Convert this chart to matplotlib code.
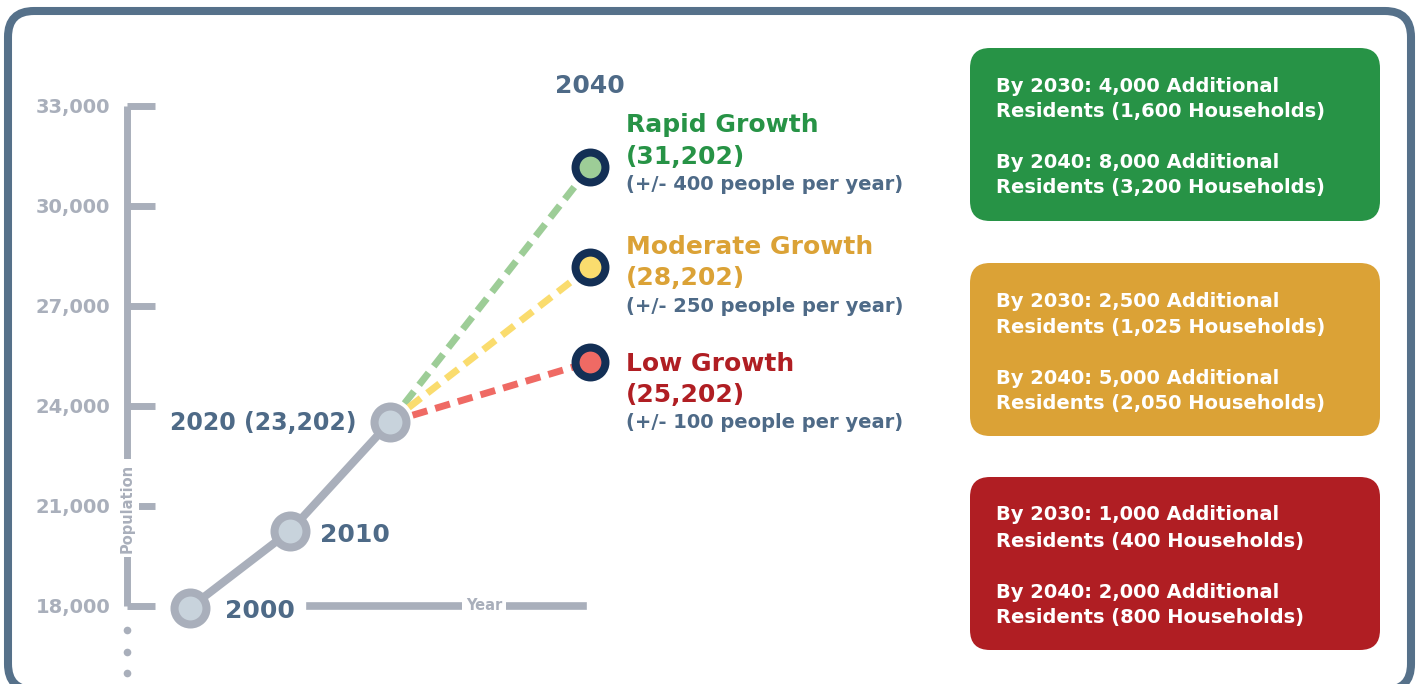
import matplotlib
matplotlib.use("Agg")
import matplotlib.pyplot as plt
from matplotlib.patches import FancyBboxPatch

# population history (read from drawn positions)
years = [2000, 2010, 2020]
population = [17950, 20250, 23520]
hist_labels = ["2000", "2010", "2020 (23,202)"]

# 2040 projections
proj_year = 2040
scenarios = ["Rapid Growth", "Moderate Growth", "Low Growth"]
proj_values = [31170, 28170, 25320]
proj_labels = ["(31,202)", "(28,202)", "(25,202)"]
rate_labels = ["(+/- 400 people per year)", "(+/- 250 people per year)",
               "(+/- 100 people per year)"]

y_ticks = [18000, 21000, 24000, 27000, 30000, 33000]

box_lines = [
    ["By 2030: 4,000 Additional", "Residents (1,600 Households)",
     "By 2040: 8,000 Additional", "Residents (3,200 Households)"],
    ["By 2030: 2,500 Additional", "Residents (1,025 Households)",
     "By 2040: 5,000 Additional", "Residents (2,050 Households)"],
    ["By 2030: 1,000 Additional", "Residents (400 Households)",
     "By 2040: 2,000 Additional", "Residents (800 Households)"],
]

# colours
slate = "#4e6a87"
gray = "#a9afbb"
inner_gray = "#c8d3dc"
navy = "#132f55"
frame_col = "#56718a"
text_cols = ["#279346", "#dba236", "#b01e23"]
dash_cols = ["#9dcd97", "#fadc6e", "#ef6a64"]
box_cols = ["#279346", "#dba236", "#b01e23"]

W, H = 1418, 684
plt.rcParams["font.family"] = "DejaVu Sans"
plt.rcParams["font.weight"] = "bold"

fig = plt.figure(figsize=(W / 100, H / 100), dpi=100)
ax = fig.add_axes([0, 0, 1, 1])
ax.set_xlim(1981, 1981 + W / 10)
ax.set_ylim(18000 - (H - 606) * 30, 18000 + 606 * 30)

# custom axes
for s in ["top", "right"]:
    ax.spines[s].set_visible(False)
ax.spines["left"].set_position(("data", 1993.7))
ax.spines["left"].set_bounds(18000, 33000)
ax.spines["left"].set_color(gray)
ax.spines["left"].set_linewidth(5)
ax.spines["left"].set_capstyle("butt")
ax.spines["bottom"].set_position(("data", 18000))
ax.spines["bottom"].set_bounds(2012, 2039.3)
ax.spines["bottom"].set_color(gray)
ax.spines["bottom"].set_linewidth(5.5)
ax.set_xticks([])
ax.set_yticks(y_ticks)
ax.set_yticklabels([f"{v:,}" for v in y_ticks])
ax.tick_params(axis="y", direction="in", length=20, width=5, color=gray,
               labelcolor=gray, labelsize=14, pad=12)
for lab in ax.get_yticklabels():
    lab.set_fontweight("bold")

ax.text(1993.7, 20940, "Population", rotation=90, ha="center", va="center",
        fontsize=10.5, color=gray, fontweight="bold",
        bbox=dict(facecolor="white", edgecolor="none", pad=3))
ax.text(2029.4, 18000, "Year", ha="center", va="center", fontsize=10.5,
        color=gray, fontweight="bold",
        bbox=dict(facecolor="white", edgecolor="none", pad=3))
ax.plot([1993.7] * 3, [17280, 16620, 15990], "o", color=gray, ms=5.5,
        mec="none", clip_on=False)

# projection dashes
for val, col in zip(proj_values, dash_cols):
    ax.plot([years[-1], proj_year], [population[-1], val], color=col, lw=5,
            dashes=(2.2, 1.2), dash_capstyle="butt", zorder=2)

# history line and points
ax.plot(years, population, color=gray, lw=5.8, solid_capstyle="round", zorder=3)
ax.plot(years, population, "o", ms=23, mfc=inner_gray, mec=gray, mew=5.8,
        zorder=4)
for val, col in zip(proj_values, dash_cols):
    ax.plot([proj_year], [val], "o", ms=21.5, mfc=col, mec=navy, mew=5.8,
            zorder=4)

# history labels
ax.text(2003.5, 17850, hist_labels[0], ha="left", va="center", fontsize=18,
        color=slate)
ax.text(2013.0, 20130, hist_labels[1], ha="left", va="center", fontsize=18,
        color=slate)
ax.text(2016.6, 23490, hist_labels[2], ha="right", va="center", fontsize=17,
        color=slate)
ax.text(2040, 33600, "2040", ha="center", va="center", fontsize=18, color=slate)

# scenario labels
label_y = [[32430, 31470, 30630], [28770, 27840, 27000], [25260, 24330, 23490]]
for i in range(3):
    ys = label_y[i]
    ax.text(2043.6, ys[0], scenarios[i], ha="left", va="center", fontsize=18,
            color=text_cols[i])
    ax.text(2043.6, ys[1], proj_labels[i], ha="left", va="center", fontsize=18,
            color=text_cols[i])
    ax.text(2043.6, ys[2], rate_labels[i], ha="left", va="center", fontsize=14,
            color=slate)

# boxes on the right (pixel layout -> figure fraction)
box_tops = [48, 263, 477]
box_h = 173
for top, col, lines in zip(box_tops, box_cols, box_lines):
    patch = FancyBboxPatch((970 / W, 1 - (top + box_h) / H), 410 / W, box_h / H,
                           boxstyle=f"round,pad=0,rounding_size={20 / W}",
                           mutation_aspect=W / H, transform=fig.transFigure,
                           facecolor=col, edgecolor="none")
    fig.add_artist(patch)
    for off, line in zip([38, 64, 115, 140], lines):
        fig.text(996 / W, 1 - (top + off) / H, line, ha="left", va="center",
                 fontsize=14, color="white", fontweight="bold")

# outer frame
frame = FancyBboxPatch((8 / W, 1 - 690 / H), 1403 / W, 679 / H,
                       boxstyle=f"round,pad=0,rounding_size={26 / W}",
                       mutation_aspect=W / H, transform=fig.transFigure,
                       facecolor="none", edgecolor=frame_col, lw=5.8)
fig.add_artist(frame)

fig.savefig("out.png", dpi=100)
